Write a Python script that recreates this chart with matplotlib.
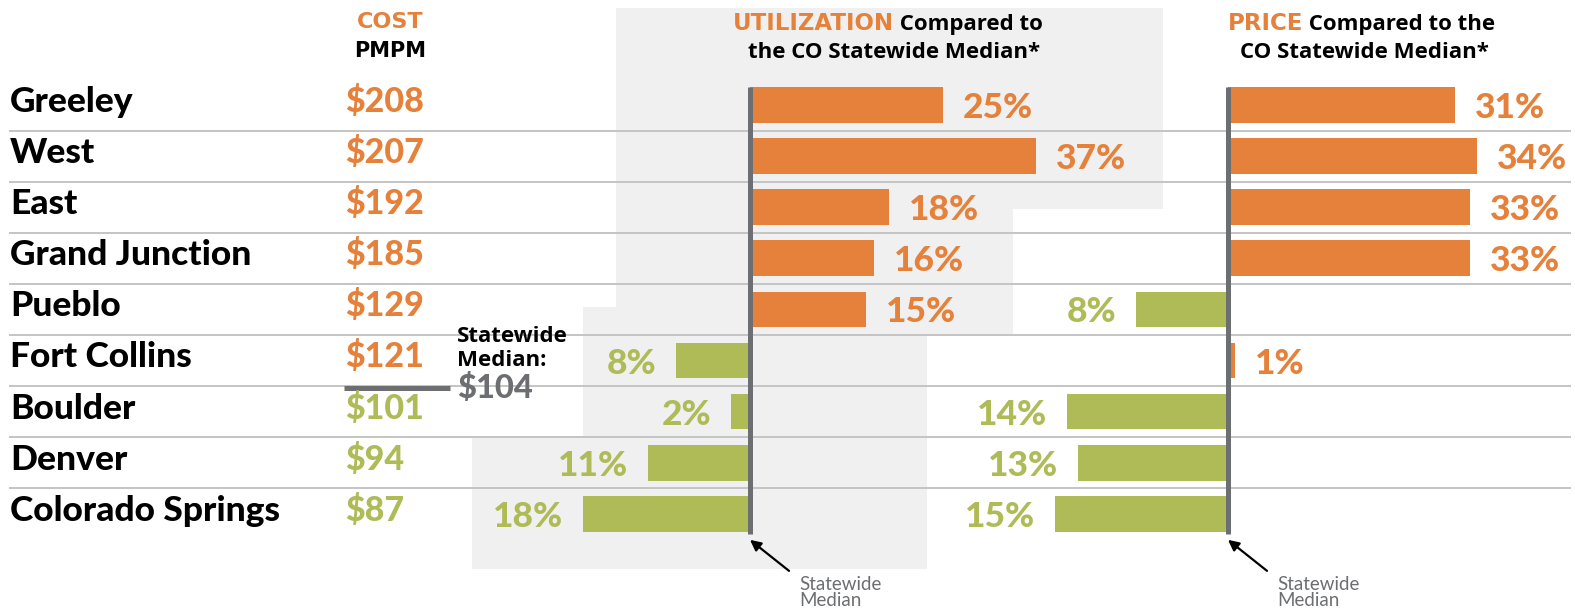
import matplotlib.pyplot as plt
from matplotlib.patches import Polygon

# data
cities = ['Greeley', 'West', 'East', 'Grand Junction', 'Pueblo',
          'Fort Collins', 'Boulder', 'Denver', 'Colorado Springs']
cost_pmpm = [208, 207, 192, 185, 129, 121, 101, 94, 87]
cost_median = 104
utilization = [25, 37, 18, 16, 15, -8, -2, -11, -18]
price = [31, 34, 33, 33, -8, 1, -14, -13, -15]

ORANGE = '#E5813A'
GREEN = '#AFBB57'
MEDIAN_GRAY = '#6D6E71'
PANEL_GRAY = '#F0F0F0'
RULE_GRAY = '#C4C4C4'

plt.rcParams['font.family'] = ['Lato', 'DejaVu Sans']
HEAVY = dict(family=['Lato', 'DejaVu Sans'], fontweight='black')
WIDE = dict(family=['Open Sans', 'DejaVu Sans'], fontweight='bold',
            fontstretch='normal')
CAPS = dict(family=['DejaVu Sans'], fontweight='bold')

W, H = 1575, 615
ROW0, ROWH = 105, 51.1          # pixel centre of first row, row pitch
YLIM = ((H - ROW0) / ROWH, -ROW0 / ROWH)


def prow(py):
    # pixel y -> row units
    return (py - ROW0) / ROWH


fig = plt.figure(figsize=(W / 100, H / 100), dpi=100)

bg = fig.add_axes([0, 0, 1, 1], zorder=0)
bg.set_xlim(0, W)
bg.set_ylim(*YLIM)
bg.axis('off')

# grey backdrop behind the utilization panel
step = [(616, 8), (1163, 8), (1163, 209), (1013, 209), (1013, 334), (927, 334),
        (927, 569), (472, 569), (472, 438), (583, 438), (583, 307), (616, 307)]
bg.add_patch(Polygon([(x, prow(y)) for x, y in step], closed=True,
                     facecolor=PANEL_GRAY, edgecolor='none', zorder=0))

# row rules
n = len(cities)
for i in range(n - 1):
    bg.plot([10, 1570], [i + 0.5, i + 0.5], color=RULE_GRAY, lw=1.4, zorder=1)

# city names and cost column
base = 7 / ROWH
for i, (name, c) in enumerate(zip(cities, cost_pmpm)):
    bg.text(10, i + base, name, fontsize=25.5, va='baseline', **HEAVY)
    bg.text(345, i + base, f'${c}', fontsize=24.5, va='baseline',
            color=ORANGE if c > cost_median else GREEN, **HEAVY)

# cost median marker
below = sum(c > cost_median for c in cost_pmpm) - 0.5
bg.plot([344, 450], [below + 0.04, below + 0.04], color=MEDIAN_GRAY, lw=3.6,
        solid_capstyle='butt', zorder=2)
bg.text(457, prow(342), 'Statewide', fontsize=16, va='baseline', **WIDE)
bg.text(457, prow(366), 'Median:', fontsize=16, va='baseline', **WIDE)
bg.text(457, prow(398), f'${cost_median}', fontsize=23.5, va='baseline',
        color=MEDIAN_GRAY, **HEAVY)

# column headers
bg.text(390, prow(28), 'COST', fontsize=16, color=ORANGE,
        ha='center', va='baseline', **CAPS)
bg.text(390, prow(57), 'PMPM', fontsize=15, ha='center', va='baseline', **CAPS)


def header(x_start, x_centre, word, rest, line2):
    t = bg.text(x_start, prow(30), word, fontsize=16.5, color=ORANGE,
                va='baseline', **CAPS)
    bg.annotate(rest, xy=(1, 0), xycoords=t, xytext=(0, prow(30)),
                textcoords=('offset pixels', 'data'), fontsize=16,
                va='baseline', ha='left', **WIDE)
    bg.text(x_centre, prow(58), line2, fontsize=16, ha='center',
            va='baseline', **WIDE)


header(733, 894, 'UTILIZATION', ' Compared to', 'the CO Statewide Median*')
header(1228, 1364, 'PRICE', ' Compared to the', 'CO Statewide Median*')


def panel(values, x0, x1, median_px, px_per_pct, below_scale):
    ax = fig.add_axes([x0 / W, 0, (x1 - x0) / W, 1], zorder=2)
    ax.set_xlim((x0 - median_px) / px_per_pct, (x1 - median_px) / px_per_pct)
    ax.set_ylim(*YLIM)
    ax.axis('off')
    # the original draws the below-median side on a stretched scale
    lengths = [v if v >= 0 else v * below_scale for v in values]
    colors = [ORANGE if v > 0 else GREEN for v in values]
    ax.barh(range(len(values)), lengths, height=0.7, color=colors, zorder=2)
    ax.vlines(0, -0.36, len(values) - 0.6, color=MEDIAN_GRAY, lw=3.6, zorder=3)
    for i, (v, L) in enumerate(zip(values, lengths)):
        ax.annotate(f'{abs(v)}%', xy=(L, i), xytext=(20 if v > 0 else -20, -13),
                    textcoords='offset pixels', ha='left' if v > 0 else 'right',
                    va='baseline', fontsize=25.5,
                    color=ORANGE if v > 0 else GREEN, annotation_clip=False,
                    **HEAVY)
    # "Statewide Median" pointer under the line
    ax.annotate('', xy=(0, len(values) - 0.49), xytext=(39, -31),
                textcoords='offset pixels',
                arrowprops=dict(arrowstyle='-|>', color='black', lw=1.6,
                                mutation_scale=16, shrinkA=0, shrinkB=0))
    ax.annotate('Statewide\nMedian', xy=(0, len(values) - 0.49), xytext=(49, -36),
                textcoords='offset pixels', ha='left', va='top', fontsize=13.5,
                color=MEDIAN_GRAY, linespacing=0.95, annotation_clip=False)
    return ax


panel(utilization, 450, 1200, 750, 7.72, 1.2)
panel(price, 1000, 1575, 1228, 7.33, 1.57)

fig.savefig('out.png', dpi=100)
